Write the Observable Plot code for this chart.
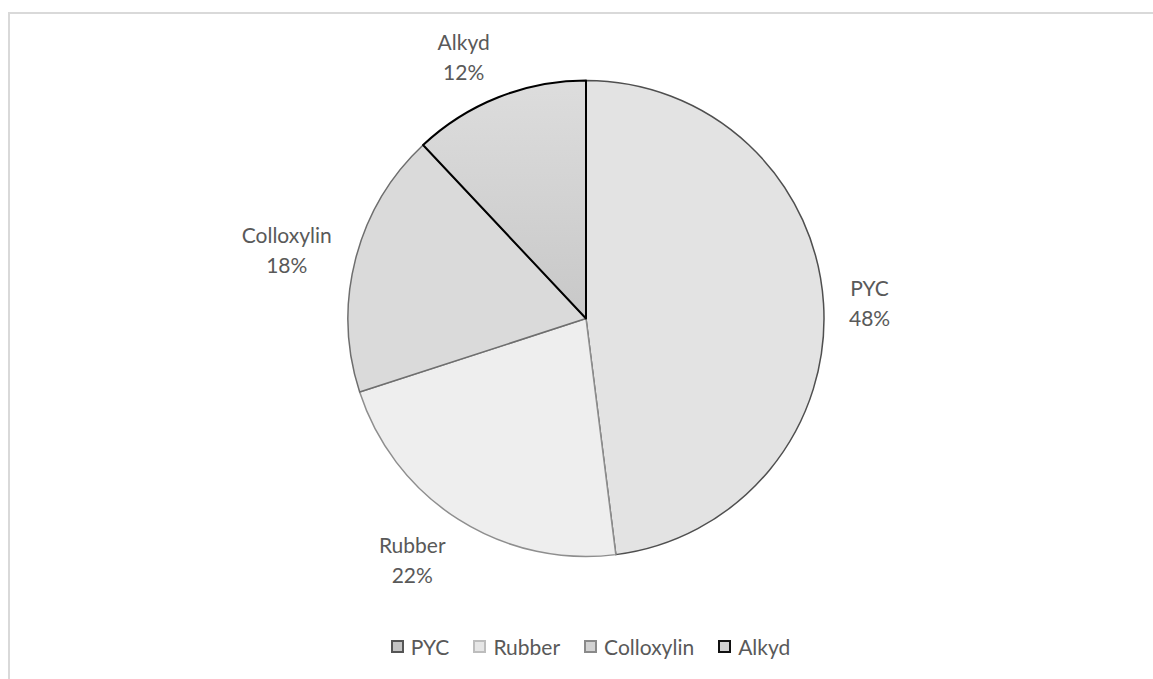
<!DOCTYPE html>
<html>
<head>
<meta charset="utf-8">
<script src="https://cdn.jsdelivr.net/npm/d3@7"></script>
<script src="https://cdn.jsdelivr.net/npm/@observablehq/plot@0.6"></script>
<style>
  html, body { margin: 0; padding: 0; background: #fff; }
  body { width: 1153px; height: 679px; position: relative; overflow: hidden; font-family: Lato, "Open Sans", sans-serif; }
  #frame { position: absolute; left: 8px; top: 12px; right: 0; bottom: 0; border-top: 2px solid #d9d9d9; border-left: 2px solid #d9d9d9; }
  #chart { position: absolute; left: 0; top: 0; }
  #legend { position: absolute; left: 14px; top: 634px; width: 1153px; display: flex; justify-content: center; align-items: center; gap: 24px; font-size: 21px; color: #595959; }
  .item { display: flex; align-items: center; gap: 7px; }
  .sw { width: 9px; height: 9px; border: 2px solid #000; }
</style>
</head>
<body>
<div id="frame"></div>
<div id="chart"></div>
<div id="legend"></div>
<script>
// ---- data ----
const categories = ["PYC", "Rubber", "Colloxylin", "Alkyd"];
const shares = [48, 22, 18, 12];

// ---- styles ----
const sliceFills = ["#e3e3e3", "#eeeeee", "#dadada", "url(#alkydGrad)"];
const sliceStrokes = ["#4f4f4f", "#8e8e8e", "#6e6e6e", "#000000"];
const sliceStrokeWidths = [1.5, 1.5, 1.5, 2];
const swatchFills = ["#c4c4c4", "#e6e6e6", "#d2d2d2", "#d0d0d0"];
const swatchStrokes = ["#555555", "#bdbdbd", "#8a8a8a", "#111111"];

const W = 1153, H = 628;
const cx = 586, cy = 318.5, R = 238;
const fontSize = 21, textColor = "#595959";
const fontFamily = "Lato, 'Open Sans', sans-serif";

const fillScale = Plot.scale({color: {type: "ordinal", domain: categories, range: sliceFills}});
const strokeScale = Plot.scale({color: {type: "ordinal", domain: categories, range: sliceStrokes}});
const swFill = Plot.scale({color: {type: "ordinal", domain: categories, range: swatchFills}});
const swStroke = Plot.scale({color: {type: "ordinal", domain: categories, range: swatchStrokes}});

const table = categories.map((c, i) => ({category: c, share: shares[i], sw: sliceStrokeWidths[i]}));
const arcs = d3.pie().sort(null).value(d => d.share)(table);

// label placement: anchor on a circle outside the pie, box attached by its near side
const ctx = document.createElement("canvas").getContext("2d");
ctx.font = `${fontSize}px ${fontFamily}`;
const labelR = R + 25, vShift = 20;
const labels = arcs.map(a => {
  const mid = (a.startAngle + a.endAngle) / 2;
  const dx = Math.sin(mid), dy = -Math.cos(mid);
  const tw = Math.max(ctx.measureText(a.data.category).width, ctx.measureText(a.data.share + "%").width);
  const ax = cx + labelR * dx, ay = cy + labelR * dy;
  return {
    x: ax + Math.sign(dx) * tw / 2,
    y: ay + dy * vShift,
    text: `${a.data.category}\n${a.data.share}%`
  };
});

const pieMark = (index, scales) => {
  const g = d3.create("svg:g");
  const px = scales.x(cx), py = scales.y(cy);
  const pr = scales.x(cx + R) - scales.x(cx);
  const defs = g.append("defs");
  const grad = defs.append("linearGradient").attr("id", "alkydGrad")
    .attr("x1", 0).attr("y1", 0).attr("x2", 0).attr("y2", 1);
  grad.append("stop").attr("offset", "0%").attr("stop-color", "#dddddd");
  grad.append("stop").attr("offset", "100%").attr("stop-color", "#c8c8c8");
  const arcGen = d3.arc().innerRadius(0).outerRadius(pr);
  g.selectAll("path")
    .data(arcs)
    .join("path")
    .attr("transform", `translate(${px},${py})`)
    .attr("d", arcGen)
    .attr("fill", d => fillScale.apply(d.data.category))
    .attr("stroke", d => strokeScale.apply(d.data.category))
    .attr("stroke-width", d => d.data.sw)
    .attr("stroke-linejoin", "round");
  return g.node();
};

const chart = Plot.plot({
  width: W,
  height: H,
  margin: 0,
  x: {domain: [0, W], range: [0, W], axis: null},
  y: {domain: [0, H], range: [0, H], axis: null},
  marks: [
    pieMark,
    Plot.text(labels, {
      x: "x", y: "y", text: "text",
      fontSize, lineHeight: 1.43, fill: textColor, fontFamily,
      textAnchor: "middle"
    })
  ]
});
chart.style.background = "transparent";
document.getElementById("chart").appendChild(chart);

// legend
const legend = d3.select("#legend");
categories.forEach(c => {
  const it = legend.append("div").attr("class", "item");
  it.append("div").attr("class", "sw")
    .style("background", swFill.apply(c))
    .style("border-color", swStroke.apply(c));
  it.append("span").text(c);
});
</script>
</body>
</html>
